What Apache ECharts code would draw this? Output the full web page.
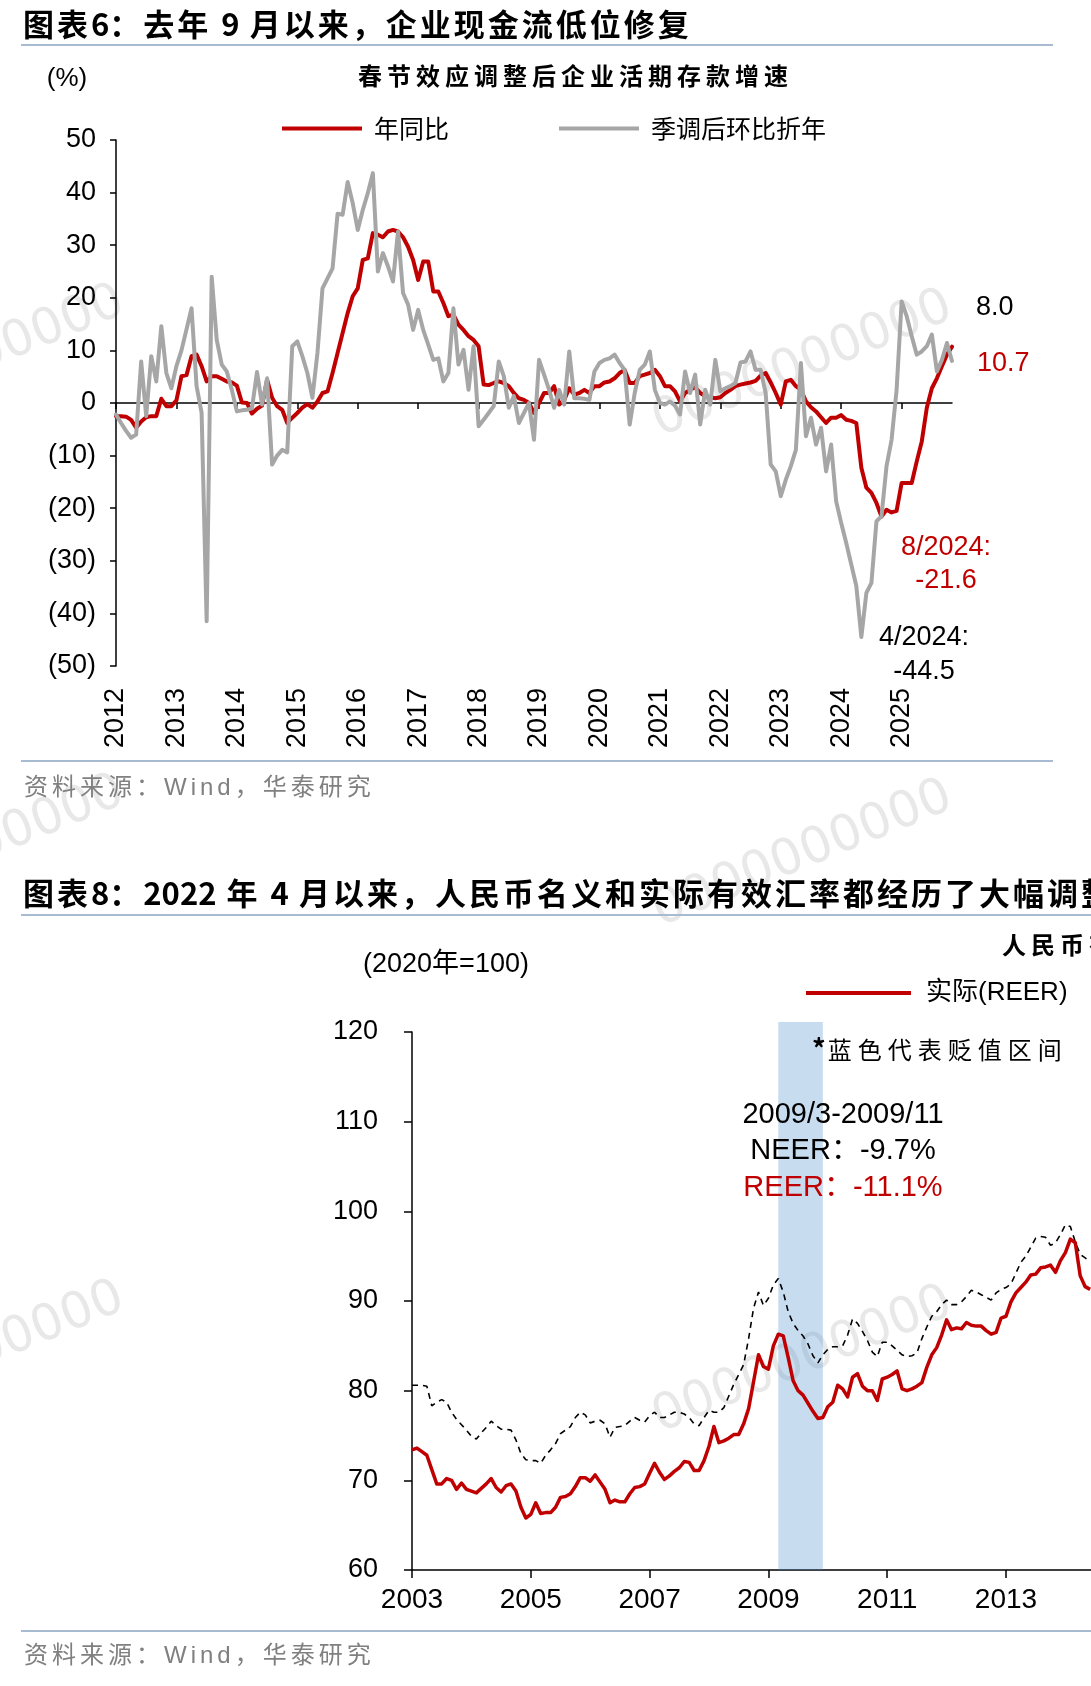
<!DOCTYPE html>
<html>
<head>
<meta charset="utf-8">
<script src="https://cdn.jsdelivr.net/npm/echarts@6.0.0/dist/echarts.min.js"></script>
<style>
html, body { margin: 0; padding: 0; background: #fff; }
body { width: 1091px; height: 1686px; position: relative; overflow: hidden; }
.abs { position: absolute; white-space: nowrap; }
.title { font-family: 'Noto Sans CJK SC'; font-weight: bold; font-size: 31px; line-height: 32px; letter-spacing: 3px; color: #000; left: 23px; }
.title .n { letter-spacing: 0; }
.sub { font-family: 'Noto Sans CJK SC'; font-weight: bold; font-size: 24px; line-height: 26px; letter-spacing: 5px; color: #000; }
.rule { position: absolute; left: 21px; height: 2px; background: #a8bbd3; }
.source { font-family: 'Liberation Sans', 'Noto Sans CJK SC'; font-size: 24px; line-height: 26px; letter-spacing: 4px; color: #808080; left: 24px; }
.wm { font-family: 'DejaVu Sans'; font-size: 50px; color: #e8e8e8; transform: rotate(-22deg); transform-origin: center; }
#chart1 { position: absolute; left: 0; top: 0; width: 1091px; height: 800px; z-index: 1; }
#chart2 { position: absolute; left: 0; top: 0; width: 1200px; height: 1686px; z-index: 1; }
.over { z-index: 2; }
</style>
</head>
<body>
<!-- 水印 -->
<div class="abs wm" style="left:642px; top:332px;">0000000000</div>
<div class="abs wm" style="left:-186px; top:327px;">0000000000</div>
<div class="abs wm" style="left:642px; top:822px;">0000000000</div>
<div class="abs wm" style="left:-186px; top:817px;">0000000000</div>
<div class="abs wm" style="left:642px; top:1328px;">0000000000</div>
<div class="abs wm" style="left:-186px; top:1323px;">0000000000</div>

<div id="chart1"></div>
<div id="chart2"></div>

<!-- 图表6 -->
<div class="abs title over" style="top:7px;">图表<span class="n">6</span>：去年 <span class="n">9</span> 月以来，企业现金流低位修复</div>
<div class="rule over" style="top:44px; width:1032px;"></div>
<div class="abs sub over" style="left:358px; top:62px;">春节效应调整后企业活期存款增速</div>
<div class="rule over" style="top:760px; width:1032px;"></div>
<div class="abs source over" style="top:774px;">资料来源：Wind，华泰研究</div>

<!-- 图表8 -->
<div class="abs title over" style="top:876px;">图表<span class="n">8</span>：<span class="n">2022</span> 年 <span class="n">4</span> 月以来，人民币名义和实际有效汇率都经历了大幅调整</div>
<div class="rule over" style="top:914px; width:1100px;"></div>
<div class="abs sub over" style="left:1002px; top:931px;">人民币有效汇率</div>
<div class="abs over" style="left:812px; top:1035px; font-family:'Noto Sans CJK SC'; font-size:24px; line-height:26px; letter-spacing:6px; color:#000;"><b style="font-size:27px; letter-spacing:2px;">*</b>蓝色代表贬值区间</div>
<div class="rule over" style="top:1630px; width:1100px;"></div>
<div class="abs source over" style="top:1642px;">资料来源：Wind，华泰研究</div>

<script>
// 月份标签
function monthList (y, m, count) {
  const out = []
  for (let k = 0; k < count; k++) {
    const yy = y + Math.floor((m - 1 + k) / 12)
    const mm = (m - 1 + k) % 12 + 1
    out.push(yy + '-' + (mm < 10 ? '0' + mm : mm))
  }
  return out
}

// 图表6：2012-01 ~ 2025-11
const depositMonths = monthList(2012, 1, 167)
const yoyData = [
  -2.5, -2.5, -2.6, -3.2, -4.7, -3.5, -2.7, -2.5, -2.5, 0.8, -0.6, -0.6,
  0.5, 5.1, 5.3, 8.9, 9.2, 7.0, 4.1, 5.1, 5.1, 4.6, 4.1, 3.9,
  3.3, 0.1, 0.0, -2.0, -1.1, -0.5, 4.4, 1.0, -0.6, -1.3, -3.8, -2.8,
  -1.9, -0.9, -0.2, -0.9, 0.3, 1.9, 2.2, 5.7, 9.5, 13.3, 17.1, 20.3,
  21.8, 27.2, 27.5, 32.3, 32.0, 31.5, 32.6, 32.9, 32.6, 31.5, 29.7, 27.2,
  23.4, 26.9, 26.9, 21.2, 21.2, 19.0, 16.5, 16.8, 14.9, 13.9, 12.7, 12.0,
  10.8, 3.5, 3.4, 3.8, 4.1, 3.8, 3.2, 1.9, 0.9, 0.6, 0.0, -1.9,
  0.0, 1.9, 1.9, 3.2, -0.3, 0.6, 2.8, 1.6, 1.9, 2.5, 1.9, 3.2,
  3.2, 3.9, 4.1, 4.7, 5.7, 6.3, 3.8, 3.8, 5.1, 5.4, 5.7, 6.3,
  5.1, 3.2, 3.2, 2.2, 0.3, 1.9, 2.5, 3.0, 1.9, 1.3, 1.1, 0.9,
  1.1, 1.9, 2.5, 3.2, 3.5, 3.7, 3.9, 4.2, 5.2, 5.7, 3.9, 1.9,
  -0.3, 4.1, 4.4, 3.2, 2.5, 0.3, -0.8, -1.6, -2.7, -3.8, -2.8, -2.8,
  -2.3, -3.2, -3.4, -3.8, -12.3, -16.1, -17.1, -19.0, -21.6, -20.3, -20.8, -20.5,
  -15.2, -15.2, -15.2, -11.1, -7.3, -0.9, 2.8, 4.7, 7.0, 9.2, 10.7
]
const saData = [
  -2.2, -3.8, -5.3, -6.6, -6.0, 7.9, -2.5, 8.9, 4.1, 14.6, 5.7, 2.8,
  7.0, 10.0, 14.0, 18.0, 3.2, -1.9, -41.5, 24.0, 12.0, 7.3, 6.0, 2.5,
  -1.6, -1.4, -1.3, -1.0, 5.9, -0.3, 4.7, -11.7, -10.0, -8.9, -9.4, 10.8,
  11.7, 8.9, 5.7, 1.0, 9.5, 21.8, 23.7, 25.6, 36.0, 35.8, 42.0, 38.0,
  32.9, 36.7, 39.9, 43.7, 25.0, 28.5, 26.0, 23.1, 32.6, 20.9, 18.7, 13.9,
  17.7, 13.9, 11.1, 8.2, 8.5, 4.1, 5.7, 18.0, 7.3, 10.1, 2.5, 10.8,
  -4.4, -3.2, -1.9, -0.6, 7.9, 5.1, -0.9, 1.3, -3.8, -1.9, 0.0, -7.0,
  8.2, 5.4, 2.5, -0.9, 2.5, -0.3, 9.8, 0.9, 0.9, 0.8, 0.6, 6.0,
  7.6, 8.2, 8.5, 9.2, 7.6, 6.3, -4.1, 1.9, 6.3, 7.3, 9.8, 2.5,
  0.0, -0.3, 0.3, -0.5, -2.2, 6.0, 1.9, 5.4, -4.1, 2.5, -0.3, 8.2,
  2.2, 2.8, 3.2, 3.8, 7.7, 7.9, 9.8, 6.3, 6.3, 1.9, -11.7, -13.0,
  -17.7, -14.6, -12.0, -8.9, 7.6, -6.3, -2.8, -7.9, -4.7, -13.0, -7.9, -18.7,
  -22.8, -26.6, -30.7, -34.8, -44.5, -36.1, -34.2, -22.5, -21.5, -12.0, -7.0, 2.5,
  19.3, 16.5, 12.7, 9.2, 9.8, 10.8, 13.0, 6.0, 8.2, 11.4, 8.0
]

// 图表8：2003-01 起（右侧被裁切）
const fxMonths = monthList(2003, 1, 141)
const reerData = [
  73.4, 73.6, 73.2, 72.8, 71.2, 69.6, 69.6, 70.2, 70.0, 69.0, 69.7, 69.0,
  68.8, 68.6, 69.1, 69.6, 70.2, 69.2, 68.7, 69.4, 69.6, 68.8, 67.0, 65.8,
  66.2, 67.5, 66.3, 66.4, 66.4, 67.0, 68.1, 68.2, 68.5, 69.3, 70.3, 70.3,
  69.9, 70.6, 69.8, 69.0, 67.5, 67.8, 67.6, 67.6, 68.5, 69.2, 69.3, 69.6,
  70.8, 71.9, 70.9, 70.1, 70.5, 71.0, 71.4, 72.1, 72.0, 71.1, 71.1, 72.2,
  73.8, 76.0, 74.2, 74.4, 74.7, 75.1, 75.1, 76.3, 78.0, 81.0, 84.0, 82.7,
  82.4, 85.0, 86.3, 86.1, 83.7, 81.1, 80.0, 79.5, 78.6, 77.7, 76.9, 77.0,
  78.2, 78.7, 80.6, 80.2, 79.3, 81.5, 81.9, 80.5, 80.0, 80.0, 78.9, 81.3,
  81.5, 81.8, 82.2, 80.2, 80.0, 80.2, 80.5, 80.9, 82.6, 84.0, 84.8, 86.2,
  87.9, 86.8, 87.0, 86.9, 87.6, 87.3, 87.2, 87.2, 86.7, 86.3, 86.5, 88.1,
  88.3, 89.9, 90.9, 91.5, 92.1, 92.9, 93.0, 93.7, 93.8, 94.0, 93.2, 94.5,
  95.4, 96.9, 96.5, 92.8, 91.6, 91.3
]
const neerData = [
  80.6, 80.6, 80.6, 80.5, 78.3, 78.7, 79.0, 78.7, 77.6, 76.8, 76.2, 75.6,
  74.9, 74.6, 75.3, 75.9, 76.6, 76.1, 75.7, 75.7, 75.6, 74.5, 73.0, 72.3,
  72.2, 72.2, 71.9, 72.8, 73.4, 74.1, 75.2, 75.6, 76.0, 77.0, 77.6, 77.3,
  76.4, 76.6, 76.7, 76.3, 74.8, 75.9, 76.0, 76.1, 76.6, 77.0, 76.7, 76.5,
  77.2, 77.6, 77.0, 77.0, 77.3, 77.6, 77.6, 77.4, 77.0, 76.3, 76.1, 77.0,
  77.8, 77.6, 77.6, 78.1, 79.4, 80.7, 81.8, 82.9, 85.8, 89.2, 91.0, 89.5,
  90.3, 91.8, 92.5, 91.0, 88.8, 87.5, 86.7, 86.1, 85.2, 83.9, 83.1, 84.0,
  84.6, 84.9, 84.9, 85.0, 86.2, 88.0, 87.5, 86.6, 85.6, 84.3, 83.8, 85.4,
  85.4, 85.0, 84.5, 84.0, 83.8, 83.9, 84.2, 85.8, 87.1, 88.3, 88.8, 89.6,
  90.1, 89.6, 89.6, 89.9, 90.5, 91.2, 91.0, 90.7, 90.4, 90.1, 90.9, 91.3,
  91.5, 91.9, 93.1, 94.3, 95.0, 96.0, 97.0, 97.2, 97.1, 96.2, 96.5, 97.4,
  98.5, 98.3, 96.6, 95.2, 94.8, 94.4
]
const bandRange = ['2009-03', '2009-12']

const RED = '#C00000'
const GRAY = '#A6A6A6'
const NUM_FONT = 'Liberation Sans'
const CJK_FONT = 'Noto Sans CJK SC'

// ---------- 图表6 ----------
const chart1 = echarts.init(document.getElementById('chart1'))
const isJan = (i, v) => v.slice(5) === '01'
chart1.setOption({
  animation: false,
  grid: { left: 116, top: 140, width: 836, height: 526, outerBoundsMode: 'none' },
  legend: [
    { data: ['年同比'], left: 277, top: 111, icon: 'rect', itemWidth: 80, itemHeight: 4, selectedMode: false,
      textStyle: { fontSize: 25, color: '#000', fontFamily: CJK_FONT, padding: [0, 0, 0, 7] } },
    { data: ['季调后环比折年'], left: 554, top: 111, icon: 'rect', itemWidth: 80, itemHeight: 4, selectedMode: false,
      textStyle: { fontSize: 25, color: '#000', fontFamily: CJK_FONT, padding: [0, 0, 0, 7] } }
  ],
  xAxis: [{
    type: 'category',
    data: depositMonths,
    boundaryGap: false,
    position: 'bottom',
    axisLine: { show: true, onZero: true, lineStyle: { color: '#000', width: 1.5 } },
    axisTick: { show: true, length: 6, interval: isJan, lineStyle: { color: '#000', width: 1.5 } },
    axisLabel: { show: false },
    splitLine: { show: false }
  }, {
    type: 'category',
    data: depositMonths,
    boundaryGap: false,
    position: 'bottom',
    axisLine: { show: false, onZero: false },
    axisTick: { show: false },
    splitLine: { show: false },
    axisLabel: {
      show: true,
      rotate: 90,
      margin: 22,
      interval: isJan,
      formatter: v => v.slice(0, 4),
      fontSize: 27,
      color: '#000',
      fontFamily: NUM_FONT
    }
  }],
  yAxis: {
    type: 'value',
    min: -50,
    max: 50,
    interval: 10,
    axisLine: { show: true, lineStyle: { color: '#000', width: 1.5 } },
    axisTick: { show: true, length: 6, lineStyle: { color: '#000', width: 1.5 } },
    splitLine: { show: false },
    axisLabel: {
      margin: 20,
      fontSize: 27,
      color: '#000',
      fontFamily: NUM_FONT,
      formatter: v => (v < 0 ? '(' + (-v) + ')' : String(v))
    }
  },
  series: [{
    name: '年同比',
    type: 'line',
    data: yoyData,
    symbol: 'none',
    z: 2,
    itemStyle: { color: RED },
    lineStyle: { color: RED, width: 4, join: 'round', cap: 'round' }
  }, {
    name: '季调后环比折年',
    type: 'line',
    data: saData,
    symbol: 'none',
    z: 3,
    itemStyle: { color: GRAY },
    lineStyle: { color: GRAY, width: 4, join: 'round', cap: 'round' }
  }],
  graphic: [
    { type: 'text', x: 67, y: 79, style: { text: '(%)', fontSize: 26, fontFamily: NUM_FONT, fill: '#000', align: 'center', verticalAlign: 'middle' } },
    { type: 'text', x: 976, y: 308, style: { text: '8.0', fontSize: 27, fontFamily: NUM_FONT, fill: '#000', align: 'left', verticalAlign: 'middle' } },
    { type: 'text', x: 977, y: 364, style: { text: '10.7', fontSize: 27, fontFamily: NUM_FONT, fill: RED, align: 'left', verticalAlign: 'middle' } },
    { type: 'text', x: 946, y: 564, style: { text: '8/2024:\n-21.6', fontSize: 27, lineHeight: 33, fontFamily: NUM_FONT, fill: RED, align: 'center', verticalAlign: 'middle' } },
    { type: 'text', x: 924, y: 655, style: { text: '4/2024:\n-44.5', fontSize: 27, lineHeight: 34, fontFamily: NUM_FONT, fill: '#000', align: 'center', verticalAlign: 'middle' } }
  ]
})

// ---------- 图表8 ----------
const chart2 = echarts.init(document.getElementById('chart2'))
const everyTwoYears = (i) => i % 24 === 0
const gridW = (fxMonths.length - 1) * 4.95
chart2.setOption({
  animation: false,
  grid: [
    { left: 412, top: 1032, width: gridW, height: 538, outerBoundsMode: 'none' },
    // 贬值区间色块用的辅助坐标系，顶部略高于 120
    { left: 412, top: 1022, width: gridW, height: 548, outerBoundsMode: 'none' }
  ],
  legend: {
    data: ['实际(REER)'], left: 801, top: 975, icon: 'rect', itemWidth: 105, itemHeight: 4, selectedMode: false,
    textStyle: { fontSize: 26, color: '#000', fontFamily: NUM_FONT + ', ' + CJK_FONT, padding: [0, 0, 0, 10] }
  },
  xAxis: [{
    type: 'category',
    data: fxMonths,
    boundaryGap: false,
    axisLine: { show: true, onZero: false, lineStyle: { color: '#000', width: 1.5 } },
    axisTick: { show: true, length: 8, interval: everyTwoYears, lineStyle: { color: '#000', width: 1.5 } },
    splitLine: { show: false },
    axisLabel: {
      margin: 16,
      interval: everyTwoYears,
      formatter: v => v.slice(0, 4),
      fontSize: 28,
      color: '#000',
      fontFamily: NUM_FONT
    }
  }, {
    gridIndex: 1,
    type: 'category',
    data: fxMonths,
    boundaryGap: false,
    show: false
  }],
  yAxis: [{
    type: 'value',
    min: 60,
    max: 120,
    interval: 10,
    axisLine: { show: true, lineStyle: { color: '#000', width: 1.5 } },
    axisTick: { show: true, length: 8, lineStyle: { color: '#000', width: 1.5 } },
    splitLine: { show: false },
    axisLabel: { margin: 34, fontSize: 27, color: '#000', fontFamily: NUM_FONT }
  }, {
    gridIndex: 1,
    type: 'value',
    min: 0,
    max: 1,
    show: false
  }],
  series: [{
    name: '名义(NEER)',
    type: 'line',
    data: neerData,
    symbol: 'none',
    z: 2,
    itemStyle: { color: '#000' },
    lineStyle: { color: '#000', width: 1.6, type: [6, 5] }
  }, {
    name: '实际(REER)',
    type: 'line',
    data: reerData,
    symbol: 'none',
    z: 3,
    itemStyle: { color: RED },
    lineStyle: { color: RED, width: 3.5, join: 'round' }
  }, {
    name: 'band',
    type: 'line',
    xAxisIndex: 1,
    yAxisIndex: 1,
    data: [],
    z: 5,
    silent: true,
    markArea: {
      silent: true,
      itemStyle: { color: 'rgba(72,138,205,0.3)' },
      data: [[{ xAxis: bandRange[0], yAxis: 0 }, { xAxis: bandRange[1], yAxis: 1 }]]
    }
  }],
  graphic: [
    { type: 'text', x: 446, y: 965, style: { text: '(2020年=100)', fontSize: 27, fontFamily: NUM_FONT + ', ' + CJK_FONT, fill: '#000', align: 'center', verticalAlign: 'middle' } },
    { type: 'text', x: 843, y: 1115, z: 10, style: { text: '2009/3-2009/11', fontSize: 29, fontFamily: NUM_FONT, fill: '#000', align: 'center', verticalAlign: 'middle' } },
    { type: 'text', x: 843, y: 1151, z: 10, style: { text: 'NEER：-9.7%', fontSize: 29, fontFamily: NUM_FONT + ', ' + CJK_FONT, fill: '#000', align: 'center', verticalAlign: 'middle' } },
    { type: 'text', x: 843, y: 1188, z: 10, style: { text: 'REER：-11.1%', fontSize: 29, fontFamily: NUM_FONT + ', ' + CJK_FONT, fill: RED, align: 'center', verticalAlign: 'middle' } }
  ]
})
</script>
</body>
</html>
